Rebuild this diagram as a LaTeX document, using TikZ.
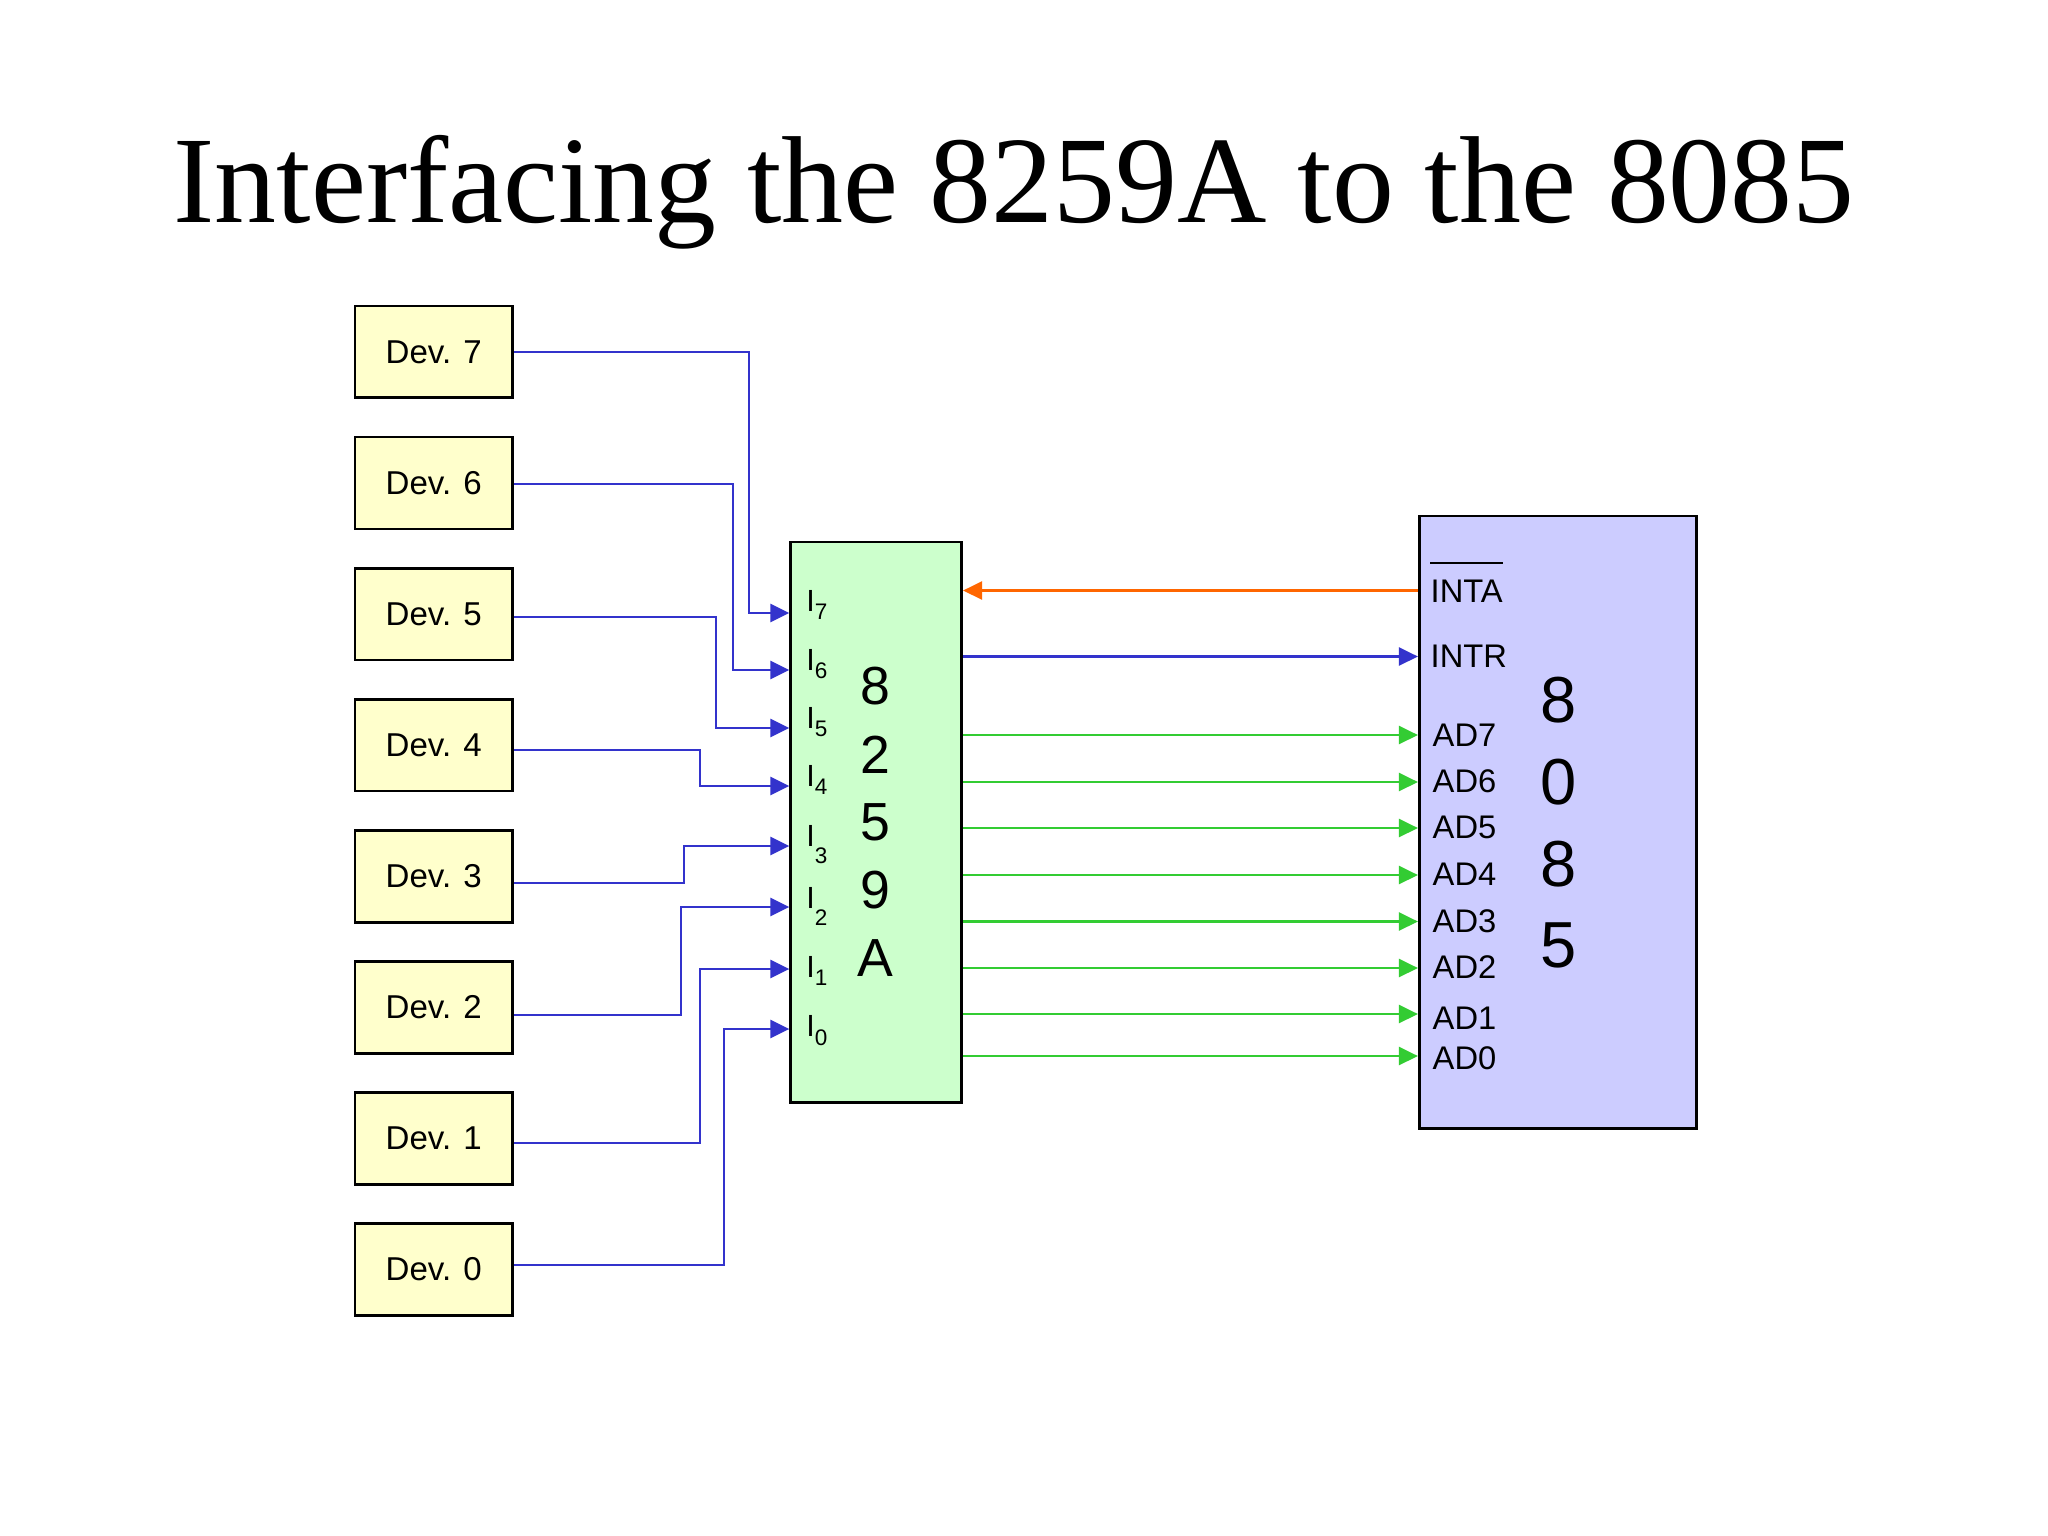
\documentclass[tikz,border=0pt]{standalone}
\usepackage{fontspec}
\setmainfont{Liberation Sans}
\newfontfamily\titlefont{Liberation Serif}
\usetikzlibrary{arrows.meta}
\definecolor{devfill}{HTML}{FFFFCC}
\definecolor{picfill}{HTML}{CCFFCC}
\definecolor{cpufill}{HTML}{CCCCFF}
\definecolor{busblue}{HTML}{3333CC}
\definecolor{busgreen}{HTML}{33CC33}
\definecolor{busorange}{HTML}{FF6600}
\newcommand{\pinlab}[2]{I\raisebox{-#2pt}{\fontsize{6.4}{7}\selectfont #1}}
\begin{document}
\begin{tikzpicture}[x=0.01cm,y=-0.01cm,
  devbox/.style={draw=black, line width=0.75pt, fill=devfill, minimum width=1.577cm,
    minimum height=0.917cm, inner sep=0pt, font=\fontsize{9.4}{11}\selectfont},
  chipbox/.style={draw=black, line width=0.75pt, inner sep=0pt},
  pinlabel/.style={inner sep=0pt, anchor=base west, font=\fontsize{8.7}{10}\selectfont},
  cpulabel/.style={inner sep=0pt, anchor=west, font=\fontsize{9.3}{11}\selectfont},
  bigdigit/.style={inner sep=0pt, font=\fontsize{15.25}{18}\selectfont},
  cpudigit/.style={inner sep=0pt, font=\fontsize{18.5}{22}\selectfont},
  tip/.style={-{Triangle[length=0.19cm,width=0.18cm]}},
  blueline/.style={draw=busblue, line width=0.75pt, tip},
  greenline/.style={draw=busgreen, line width=0.75pt, tip},
  orangeline/.style={draw=busorange, line width=0.75pt, tip}]
\fill[white] (0,0) rectangle (2048,1536);
\useasboundingbox (0,0) rectangle (2048,1536);

% title
\node[inner sep=0pt, anchor=base, font=\titlefont\fontsize{35.2}{40}\selectfont] (title) at (1014,222)
  {Interfacing the 8259A to the 8085};

% devices
\foreach \k/\yc in {7/351.9,6/483,5/614.1,4/745.2,3/876.3,2/1007.4,1/1138.5,0/1269.6}
  \node[devbox] (dev\k) at (433.8,\yc) {Dev. \k};

% chips
\node[chipbox, fill=picfill, minimum width=1.71cm, minimum height=5.60cm] (chipa) at (876.2,822.3) {};
\node[chipbox, fill=cpufill, minimum width=2.774cm, minimum height=6.123cm] (cpu) at (1558,822.15) {};

% 8259A digits
\foreach \d/\yc [count=\n] in {8/686.5,2/754.5,5/822.5,9/890.5,A/958.5}
  \node[bigdigit] (pd\n) at (875.7,\yc) {\d};
% 8085 digits
\foreach \d/\yc [count=\n] in {8/700,0/781.8,8/863.6,5/945.4}
  \node[cpudigit] (cd\n) at (1558.3,\yc) {\d};

% pin coordinates on the 8259A
\foreach \k/\py in {7/613,6/670,5/728,4/786,3/846,2/907,1/969,0/1029}
  \coordinate (pin\k) at (chipa.west |- 0,\py);

% pin labels
\foreach \k/\bl/\dr in {7/611/2.28,6/670/2.28,5/728/2.28,4/786.5/2.28,3/846/4.84,2/908/4.84,1/977.7/2.13,0/1036.7/2.56}
  \node[pinlabel] (il\k) at (805.7,\bl) {\pinlab{\k}{\dr}};

% device connectors
\foreach \k/\ly/\vx/\py in {7/352/749/613,6/484/733/670,5/617/716/728,4/750/700/786,3/883/684/846,2/1015/681/907,1/1143/700/969,0/1265/724/1029}
  \draw[blueline] (dev\k.east |- 0,\ly) -| (\vx,\py) -- (pin\k);

% 8085 labels
\node[cpulabel] (inta) at (1430,591) {INTA};
\draw[line width=0.6pt] ([yshift=0.157cm]inta.north west) -- ([yshift=0.157cm]inta.north east);
\node[cpulabel] (intr) at (1430,656) {INTR};
\foreach \k/\yc in {7/735,6/781,5/827,4/874,3/921,2/967,1/1018,0/1058}
  \node[cpulabel] (ad\k) at (1432,\yc) {AD\k};

% INTA and INTR
\draw[orangeline] (cpu.west |- 0,590.5) -- (chipa.east |- 0,590.5);
\draw[blueline] (chipa.east |- 0,656.5) -- (cpu.west |- 0,656.5);

% data bus
\foreach \yc in {735,782,828,875,921.5,968,1014,1056}
  \draw[greenline] (chipa.east |- 0,\yc) -- (cpu.west |- 0,\yc);
\end{tikzpicture}
\end{document}
